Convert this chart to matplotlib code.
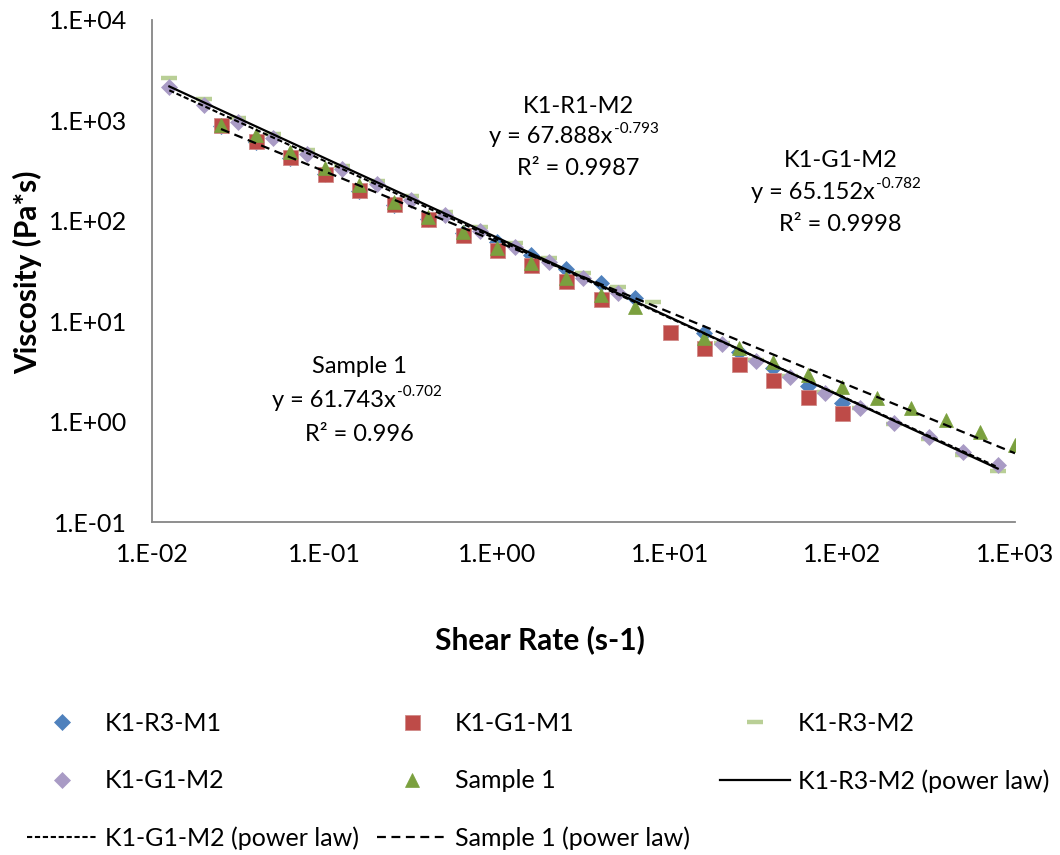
import numpy as np
import matplotlib.pyplot as plt
from matplotlib.ticker import FixedLocator, FuncFormatter

plt.rcParams['font.family'] = ['Lato', 'DejaVu Sans']

# shear rates (s-1) and viscosities (Pa*s)
x_r3m1 = [0.0251, 0.0398, 0.0631, 0.1, 0.158, 0.251, 0.398, 0.631, 1.0, 1.58, 2.51, 3.98, 6.31,
          15.8, 25.1, 39.8, 63.1, 100]
y_r3m1 = [880, 610, 420, 290, 200, 145, 105, 76, 61.5, 45.6, 33, 24, 17,
          7.6, 4.9, 3.4, 2.26, 1.53]

x_g1m1 = [0.0251, 0.0398, 0.0631, 0.1, 0.158, 0.251, 0.398, 0.631, 1.0, 1.58, 2.51, 3.98,
          10, 15.8, 25.1, 39.8, 63.1, 100]
y_g1m1 = [910, 624, 431, 292, 203, 147, 104, 72, 51, 36, 25, 16.6,
          7.8, 5.4, 3.75, 2.6, 1.76, 1.22]

x_r3m2 = [0.0126, 0.02, 0.0316, 0.05, 0.0794, 0.126, 0.2, 0.316, 0.5, 0.794, 1.26, 2.0, 3.16, 5.0, 7.94,
          20, 31.6, 50, 79.4, 126, 200, 316, 500, 794]
y_r3m2 = [2650, 1650, 1050, 733, 507, 351, 249, 177, 122, 87, 60, 43, 30, 22, 15.5,
          6.0, 4.1, 2.85, 1.95, 1.37, 0.95, 0.67, 0.46, 0.32]

x_g1m2 = [0.0126, 0.02, 0.0316, 0.05, 0.0794, 0.126, 0.2, 0.316, 0.5, 0.794, 1.26, 2.0, 3.16, 5.0,
          20, 31.6, 50, 79.4, 126, 200, 316, 500, 794]
y_g1m2 = [2150, 1420, 963, 668, 463, 328, 233, 161, 114, 79, 55, 39, 27, 19,
          5.9, 4.0, 2.8, 1.93, 1.36, 0.97, 0.70, 0.50, 0.37]

x_s1 = [0.0251, 0.0398, 0.0631, 0.1, 0.158, 0.251, 0.398, 0.631, 1.0, 1.58, 2.51, 3.98, 6.31,
        15.8, 25.1, 39.8, 63.1, 100, 158, 251, 398, 631, 1000]
y_s1 = [900, 716, 484, 336, 228, 154, 109, 77, 53.5, 38, 26.9, 18.2, 13.8,
        6.8, 5.4, 3.9, 2.9, 2.2, 1.72, 1.36, 1.04, 0.79, 0.58]

# power law trendlines  y = a * x^b
fit_r3m2 = (67.888, -0.793)
fit_g1m2 = (65.152, -0.782)
fit_s1 = (61.743, -0.702)


def power_line(xs, fit):
    xx = np.array([min(xs), max(xs)])
    return xx, fit[0] * xx ** fit[1]


fig = plt.figure(figsize=(10.6, 8.55), dpi=100)
ax = fig.add_axes([152 / 1060, 1 - 522 / 855, 863 / 1060, 502 / 855])
ax.set_xscale('log')
ax.set_yscale('log')

h1, = ax.plot(x_r3m1, y_r3m1, ls='none', marker='D', ms=7.8, color='#4F81BD', mec='#4F81BD', mew=0.5, label='K1-R3-M1')
h2, = ax.plot(x_g1m1, y_g1m1, ls='none', marker='s', ms=10.8, color='#BE4B48', mec='#D08A88', mew=0.6, label='K1-G1-M1')
h3, = ax.plot(x_r3m2, y_r3m2, ls='none', marker='_', ms=11, color='#B9CF96', mew=3.2, label='K1-R3-M2')
h4, = ax.plot(x_g1m2, y_g1m2, ls='none', marker='D', ms=7.8, color='#A99BC5', mec='#A99BC5', mew=0.5, label='K1-G1-M2')
h5, = ax.plot(x_s1, y_s1, ls='none', marker='^', ms=10, color='#7BA03E', mec='#7BA03E', mew=0.5, label='Sample 1')

lx, ly = power_line(x_r3m2, fit_r3m2)
l1, = ax.plot(lx, ly, color='black', lw=1.6, label='K1-R3-M2 (power law)')
lx, ly = power_line(x_g1m2, fit_g1m2)
l2, = ax.plot(lx, ly, color='black', lw=1.5, dashes=(2.5, 1.3), label='K1-G1-M2 (power law)')
lx, ly = power_line(x_s1, fit_s1)
l3, = ax.plot(lx, ly, color='black', lw=1.6, dashes=(4, 2.5), label='Sample 1 (power law)')

ax.set_xlim(1e-2, 1e3)
ax.set_ylim(1e-1, 1e4)
ax.minorticks_off()
ax.xaxis.set_major_locator(FixedLocator([1e-2, 1e-1, 1e0, 1e1, 1e2, 1e3]))
ax.yaxis.set_major_locator(FixedLocator([1e-1, 1e0, 1e1, 1e2, 1e3, 1e4]))
fmt = FuncFormatter(lambda v, p: '1.E{:+03d}'.format(int(round(np.log10(v)))))
ax.xaxis.set_major_formatter(fmt)
ax.yaxis.set_major_formatter(fmt)
ax.tick_params(axis='both', length=0, labelsize=18, colors='black')
ax.tick_params(axis='y', pad=18)
ax.tick_params(axis='x', pad=15)
for s in ['top', 'right']:
    ax.spines[s].set_visible(False)
for s in ['left', 'bottom']:
    ax.spines[s].set_color('#868686')
    ax.spines[s].set_linewidth(1.3)

ax.set_xlabel('Shear Rate (s-1)', fontsize=21.5, weight='bold')
ax.xaxis.set_label_coords(0.4496, -0.235)
ax.xaxis.label.set_va('center')
ax.set_ylabel('Viscosity (Pa*s)', fontsize=21.5, weight='bold')
ax.yaxis.set_label_coords(-0.1437, 0.498)
ax.yaxis.label.set_va('center')

# trendline labels: name, equation (base + superscript), R²
notes = [
    (0.494, 0.534, [0.827, 0.767, 0.705], 'K1-R1-M2', 'y = 67.888x', '-0.793', 'R² = 0.9987'),
    (0.798, 0.838, [0.721, 0.657, 0.592], 'K1-G1-M2', 'y = 65.152x', '-0.782', 'R² = 0.9998'),
    (0.240, 0.283, [0.309, 0.243, 0.175], 'Sample 1', 'y = 61.743x', '-0.702', 'R² = 0.996'),
]
for nx, ex, nys, name, eq, sup, r2 in notes:
    ax.text(nx, nys[0], name, transform=ax.transAxes, ha='center', va='center', fontsize=17)
    t = ax.text(ex, nys[1], eq, transform=ax.transAxes, ha='right', va='center', fontsize=17)
    ax.annotate(sup, xy=(1, 1), xycoords=t, xytext=(0.5, 3.5), textcoords='offset points',
                ha='left', va='top', fontsize=11)
    ax.text(nx, nys[2], r2, transform=ax.transAxes, ha='center', va='center', fontsize=17)

# legend, laid out as three columns
cols = [([h1, h4, l2], 27), ([h2, h5, l3], 377), ([h3, l1], 720)]
for handles, px in cols:
    fig.legend(handles=handles, loc='upper left', bbox_to_anchor=(px / 1060, 1 - 712 / 855),
               frameon=False, fontsize=18, borderpad=0, borderaxespad=0,
               handlelength=2.8, handletextpad=0.31, labelspacing=1.37, numpoints=1)

fig.savefig('out.png', dpi=100)
